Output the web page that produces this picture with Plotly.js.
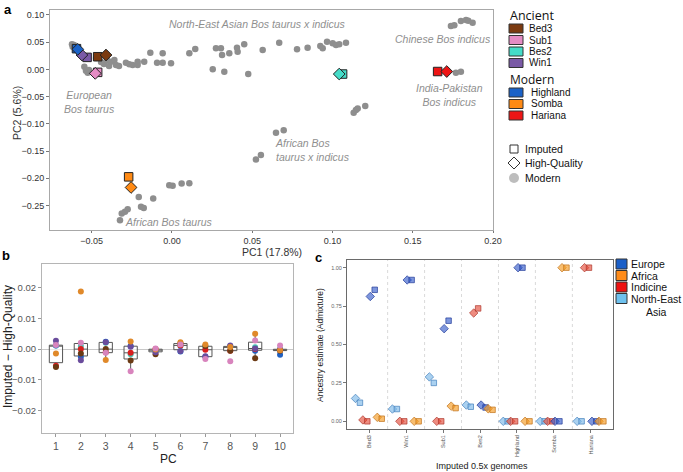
<!DOCTYPE html>
<html><head><meta charset="utf-8">
<script src="https://cdn.plot.ly/plotly-3.0.1.min.js"></script>
<style>body{margin:0;background:#fff}#chart{width:683px;height:472px}</style>
</head><body><div id="chart"></div>
<script>
// ---------- Panel a: PCA ----------
const modernPC1 = [-0.0623,-0.0619,-0.0610,-0.0546,-0.0536,-0.0525,-0.0517,-0.0473,-0.0442,-0.0424,-0.0405,-0.0392,-0.0380,-0.0359,-0.0349,-0.0330,-0.0287,-0.0266,-0.0245,-0.0214,-0.0214,-0.0173,-0.0135,-0.0093,-0.0058,-0.0058,-0.0006,0.0108,0.0145,0.0254,0.0326,0.0274,0.0305,0.0312,0.0357,0.0405,0.0409,0.0450,0.0475,0.0565,0.0668,0.0779,0.0845,0.0924,0.0939,0.0966,0.1001,0.1022,0.1042,0.1084,
 0.1132,0.1146,0.1157,0.1204,0.0648,0.0696,0.0523,0.0554,
 0.1738,0.1759,0.1800,0.1832,0.1846,0.1873,
 0.1769,0.1800,
 -0.0324,-0.0313,-0.0293,-0.0276,-0.0207,-0.0193,-0.0176,-0.0117,-0.0017,0.0004,0.0060,0.0108];
const modernPC2 = [0.0460,0.0415,0.0447,0.0048,-0.0026,-0.0062,-0.0013,0.0208,0.0134,0.0097,0.0171,0.0061,0.0140,0.0171,0.0079,0.0061,0.0121,0.0092,0.0079,0.0140,0.0079,0.0140,0.0305,0.0121,0.0294,0.0121,0.0110,0.0294,0.0373,0.0000,-0.0044,0.0386,0.0386,0.0263,0.0294,0.0397,0.0323,0.0460,-0.0086,0.0355,0.0489,0.0368,0.0397,0.0428,0.0386,0.0507,0.0478,0.0447,0.0460,0.0489,
 -0.0798,-0.0748,-0.0717,-0.0675,-0.1165,-0.1116,-0.1654,-0.1575,
 0.0796,0.0809,0.0888,0.0906,0.0893,0.0857,
 -0.0062,-0.0044,
 -0.2770,-0.2647,-0.2617,-0.2568,-0.2342,-0.2525,-0.2544,-0.2371,-0.2127,-0.2139,-0.2095,-0.2090];

const sampleNames = ['Bed3','Sub1','Bes2','Win1','Highland','Somba','Hariana'];
const sampleColors = ['#7b3a10','#e58cc4','#45dcc8','#7a5aa6','#1a62c8','#ff8a14','#ee1515'];
const imputedPC1 = [-0.0463,-0.0463,0.1063,-0.0529,-0.0595,-0.0270,0.1655];
const imputedPC2 = [0.0232,-0.0055,-0.0086,0.0220,0.0380,-0.1974,-0.0040];
const hqPC1 = [-0.0411,-0.0478,0.1042,-0.0561,-0.0587,-0.0255,0.1712];
const hqPC2 = [0.0263,-0.0074,-0.0086,0.0263,0.0368,-0.2169,-0.0040];

// ---------- Panel b: Imputed - High-Quality per PC ----------
const pcNumbers = [1,2,3,4,5,6,7,8,9,10];
const diffBes2     = [0.0012, 0.0010, 0.0021,-0.0017,-0.0005, 0.0010, 0.0007, 0.0008, 0.0006, 0.0000];
const diffHighland = [0.0012,-0.0025, 0.0024, 0.0010,-0.0003,-0.0008,-0.0025, 0.0009,-0.0005,-0.0018];
const diffHariana  = [-0.0054,0.0000,-0.0010,-0.0012, 0.0000, 0.0012,-0.0002,-0.0005, 0.0000,-0.0003];
const diffBed3     = [-0.0058,-0.0014,0.0000,-0.0037,-0.0017, 0.0019, 0.0010,-0.0005,-0.0030,-0.0005];
const diffWin1     = [0.0027,-0.0036, 0.0022, 0.0008,-0.0010,-0.0006,-0.0023, 0.0012, 0.0002,-0.0002];
const diffSomba    = [-0.0014,0.0187,-0.0035, 0.0025,-0.0001, 0.0022, 0.0015, 0.0007, 0.0050,-0.0004];
const diffSub1     = [0.0013, 0.0021,-0.0012,-0.0072, 0.0002, 0.0015,-0.0032,-0.0039, 0.0028, 0.0012];

// ---------- Panel c: Admixture ----------
const admixSamples = ['Bed3','Win1','Sub1','Bes2','Highland','Somba','Hariana'];
const hqNEAsia    = [0.149,0.080,0.289,0.106,0,0,0];
const impNEAsia   = [0.121,0.080,0.250,0.095,0,0,0];
const hqIndicine  = [0.009,0,0,0.705,0,0,1.0];
const impIndicine = [0.000,0,0,0.735,0,0,1.0];
const hqEurope    = [0.8125,0.920,0.603,0.106,1.0,0,0];
const impEurope   = [0.856,0.920,0.655,0.090,1.0,0,0];
const hqAfrica    = [0.026,0,0.099,0.082,0,1.0,0];
const impAfrica   = [0.017,0,0.086,0.075,0,1.0,0];

const W = 683, H = 472;
const px = x => x / W, py = y => 1 - y / H;

const traces = [];
// Panel a
traces.push({type:'scatter', mode:'markers', x:modernPC1, y:modernPC2, xaxis:'x', yaxis:'y',
  marker:{color:'#8e8e8e', size:6.5}, hoverinfo:'skip', showlegend:false});
traces.push({type:'scatter', mode:'markers', x:imputedPC1, y:imputedPC2, xaxis:'x', yaxis:'y',
  marker:{symbol:'square', color:sampleColors, size:8.5, line:{color:'#222', width:1}}, text:sampleNames, showlegend:false});
traces.push({type:'scatter', mode:'markers', x:hqPC1, y:hqPC2, xaxis:'x', yaxis:'y',
  marker:{symbol:'diamond', color:sampleColors, size:9, line:{color:'#222', width:1}}, text:sampleNames, showlegend:false});

// Panel b
const diffSets = [
  ['Bes2', diffBes2, '#45c8b8'],
  ['Highland', diffHighland, '#2060c0'],
  ['Hariana', diffHariana, '#d81e1e'],
  ['Bed3', diffBed3, '#6b3a14'],
  ['Win1', diffWin1, '#6a4c9c'],
  ['Somba', diffSomba, '#e0892a'],
  ['Sub1', diffSub1, '#d884bd']
];
const boxX = [], boxY = [];
diffSets.forEach(s => s[1].forEach((v,i) => { boxX.push(pcNumbers[i]); boxY.push(v); }));
traces.push({type:'box', x:boxX, y:boxY, xaxis:'x2', yaxis:'y2', boxpoints:'outliers',
  marker:{opacity:0, size:1}, fillcolor:'rgba(255,255,255,0.6)', line:{color:'#555', width:1},
  whiskerwidth:0, showlegend:false, hoverinfo:'skip'});
diffSets.forEach(s => traces.push({type:'scatter', mode:'markers', x:pcNumbers, y:s[1], xaxis:'x2', yaxis:'y2',
  name:s[0], marker:{color:s[2], size:6}, showlegend:false}));

// Panel c
const catIdx = admixSamples.map((_,i)=>i);
const comps = [
  ['North-East Asia', hqNEAsia, impNEAsia, -0.31, 'rgba(125,185,232,0.65)', 'rgba(70,130,190,0.9)'],
  ['Indicine', hqIndicine, impIndicine, -0.11, 'rgba(228,70,50,0.62)', 'rgba(170,50,40,0.85)'],
  ['Europe', hqEurope, impEurope, 0.09, 'rgba(45,85,200,0.62)', 'rgba(30,55,150,0.85)'],
  ['Africa', hqAfrica, impAfrica, 0.28, 'rgba(245,155,35,0.65)', 'rgba(190,110,20,0.85)']
];
comps.forEach(c => {
  traces.push({type:'scatter', mode:'markers', x:catIdx.map(i=>i + c[3] - 0.06), y:c[1], xaxis:'x3', yaxis:'y3',
    name:c[0]+' HQ', marker:{symbol:'diamond', size:6.5, color:c[4], line:{color:c[5], width:0.8}}, showlegend:false});
  traces.push({type:'scatter', mode:'markers', x:catIdx.map(i=>i + c[3] + 0.06), y:c[2], xaxis:'x3', yaxis:'y3',
    name:c[0]+' imputed', marker:{symbol:'square', size:5.5, color:c[4], line:{color:c[5], width:0.8}}, showlegend:false});
});

const FONT = 'Liberation Sans, Arial, sans-serif';
const LFONT = 'Open Sans, sans-serif';
const shapes = [];
const annotations = [];
function ann(text, x, y, size, opts) {
  annotations.push(Object.assign({text:text, x:px(x), y:py(y), xref:'paper', yref:'paper', showarrow:false, borderpad:0,
    font:{family:FONT, size:size, color:'#222'}, xanchor:'center', yanchor:'middle'}, opts||{}));
}
function rect(x0,y0,x1,y1,fill,line) {
  shapes.push({type:'rect', xref:'paper', yref:'paper', x0:px(x0), x1:px(x1), y0:py(y1), y1:py(y0),
    fillcolor:fill, line:{color:line, width:1}});
}
// panel labels
ann('<b>a</b>', 8, 10, 13, {font:{family:FONT,size:13,color:'#000'}});
ann('<b>b</b>', 6, 255, 13, {font:{family:FONT,size:13,color:'#000'}});
ann('<b>c</b>', 318, 257, 13, {font:{family:FONT,size:13,color:'#000'}});

// axis titles
ann('PC1 (17.8%)', 272, 252, 10.5, {font:{family:FONT,size:10.5,color:'#333'}});
ann('PC2 (5.6%)', 17, 113, 10.5, {textangle:-90, font:{family:FONT,size:10.5,color:'#333'}});
ann('Imputed − High-Quality', 8, 347, 12, {textangle:-90});
ann('PC', 168, 459, 12);
ann('Ancestry estimate (Admixture)', 320, 345, 8.5, {textangle:-90});
ann('Imputed 0.5x genomes', 482, 466, 9);

// panel a group labels (data coordinates)
const gl = {family:FONT, size:10.5, color:'#8f8f8f'};
function dataAnn(text, x, y, opts) {
  annotations.push(Object.assign({text:'<i>'+text+'</i>', x:x, y:y, xref:'x', yref:'y', showarrow:false, borderpad:0,
    font:gl, xanchor:'center', yanchor:'middle'}, opts||{}));
}
dataAnn('North-East Asian Bos taurus x indicus', 0.053, 0.0833);
dataAnn('Chinese Bos indicus', 0.1688, 0.0557);
dataAnn('India-Pakistan<br>Bos indicus', 0.1732, -0.0474);
dataAnn('African Bos<br>taurus x indicus', 0.0635, -0.1483, {xanchor:'left', align:'left'});
dataAnn('European<br>Bos taurus', -0.0511, -0.0592);
dataAnn('African Bos taurus', -0.0019, -0.2807);

// Panel a legend
const lf = s => ({family:FONT, size:s, color:'#111'});
ann('Ancient', 509, 15, 12.5, {xanchor:'left', font:{family:LFONT,size:12.5,color:'#111'}});
const ancRows = [28.5,40,51.5,63];
['Bed3','Sub1','Bes2','Win1'].forEach((n,i) => {
  rect(509, ancRows[i]-4.5, 523, ancRows[i]+4.5, sampleColors[i], '#333');
  ann(n, 528, ancRows[i], 10, {xanchor:'left', font:lf(10)});
});
ann('Modern', 509, 79, 12, {xanchor:'left', font:{family:LFONT,size:12,color:'#111'}});
const modRows = [92.5,104,115.5];
['Highland','Somba','Hariana'].forEach((n,i) => {
  rect(509, modRows[i]-4.5, 523, modRows[i]+4.5, sampleColors[4+i], '#333');
  ann(n, 530, modRows[i], 10, {xanchor:'left', font:lf(10)});
});
rect(510, 145, 518, 153, 'rgba(0,0,0,0)', '#333');
ann('Imputed', 524, 149, 10.5, {xanchor:'left', font:lf(10.5)});
shapes.push({type:'path', xref:'paper', yref:'paper',
  path:`M ${px(508)},${py(163)} L ${px(514)},${py(157)} L ${px(520)},${py(163)} L ${px(514)},${py(169)} Z`,
  fillcolor:'rgba(0,0,0,0)', line:{color:'#333', width:1}});
ann('High-Quality', 524, 163, 10.5, {xanchor:'left', font:lf(10.5)});
shapes.push({type:'circle', xref:'paper', yref:'paper', x0:px(509), x1:px(519), y0:py(183), y1:py(173),
  fillcolor:'#bdbdbd', line:{color:'#bdbdbd', width:0}});
ann('Modern', 524, 178, 10.5, {xanchor:'left', font:lf(10.5)});

// Panel c legend
const cl = [['Europe','#1a5fc8'],['Africa','#ff8c1a'],['Indicine','#ee1111'],['North-East','#6ec1ee']];
const clRows = [264,275.5,287,298.5];
cl.forEach((c,i) => {
  rect(616, clRows[i]-5, 627, clRows[i]+5, c[1], '#333');
  ann(c[0], 630, clRows[i], 10.5, {xanchor:'left', font:lf(10.5)});
});
ann('Asia', 656, 312, 10.5, {font:lf(10.5)});

// Panel c dividers
[0.5,1.5,2.5,3.5,4.5,5.5].forEach(v => shapes.push({type:'line', xref:'x3', yref:'y3 domain', x0:v, x1:v, y0:0, y1:1,
  line:{color:'#cfcfcf', width:0.8, dash:'dot'}, layer:'below'}));

const baseAxis = {showgrid:false, zeroline:false, showline:true, mirror:true, ticks:'outside', ticklen:3,
  automargin:false, fixedrange:true};
const layout = {
  width:W, height:H, margin:{l:0,r:0,t:0,b:0}, paper_bgcolor:'#fff', plot_bgcolor:'#fff', showlegend:false,
  xaxis: Object.assign({}, baseAxis, {domain:[px(50),px(493)], range:[-0.076,0.2], tickvals:[-0.05,0,0.05,0.1,0.15,0.2],
    ticklen:2, tickformat:'.2f', linecolor:'#a8a8a8', tickcolor:'#777', tickfont:{family:FONT,size:9,color:'#333'}, anchor:'y'}),
  yaxis: Object.assign({}, baseAxis, {domain:[py(230),py(10)], range:[-0.295,0.109], tickvals:[-0.25,-0.2,-0.15,-0.1,-0.05,0,0.05,0.1],
    tickformat:'.2f', linecolor:'#a8a8a8', tickcolor:'#777', tickfont:{family:FONT,size:9,color:'#333'}, anchor:'x'}),
  xaxis2: Object.assign({}, baseAxis, {domain:[px(42),px(293)], range:[0.44,10.52], tickvals:pcNumbers,
    linecolor:'#b5b5b5', tickcolor:'#999', tickfont:{family:FONT,size:10.5,color:'#555'}, anchor:'y2'}),
  yaxis2: Object.assign({}, baseAxis, {domain:[py(433),py(264)], range:[-0.0272,0.0276], tickvals:[-0.02,-0.01,0,0.01,0.02],
    tickformat:'.2f', zeroline:true, zerolinecolor:'#c8c8c8', zerolinewidth:1,
    linecolor:'#b5b5b5', tickcolor:'#999', tickfont:{family:FONT,size:9.5,color:'#555'}, anchor:'x2'}),
  xaxis3: Object.assign({}, baseAxis, {domain:[px(347),px(613)], range:[-0.6,6.6], tickvals:catIdx, ticktext:admixSamples,
    tickangle:-90, linecolor:'#6a6a6a', tickcolor:'#777', tickfont:{family:FONT,size:5.5,color:'#555'}, anchor:'y3'}),
  yaxis3: Object.assign({}, baseAxis, {domain:[py(429),py(260)], range:[-0.05,1.05], tickvals:[0,0.25,0.5,0.75,1],
    tickformat:'.2f', linecolor:'#6a6a6a', tickcolor:'#777', tickfont:{family:FONT,size:5.5,color:'#666'}, anchor:'x3'}),
  boxgap:0.24,
  shapes:shapes, annotations:annotations
};
Plotly.newPlot('chart', traces, layout, {displayModeBar:false, staticPlot:true});
</script></body></html>
